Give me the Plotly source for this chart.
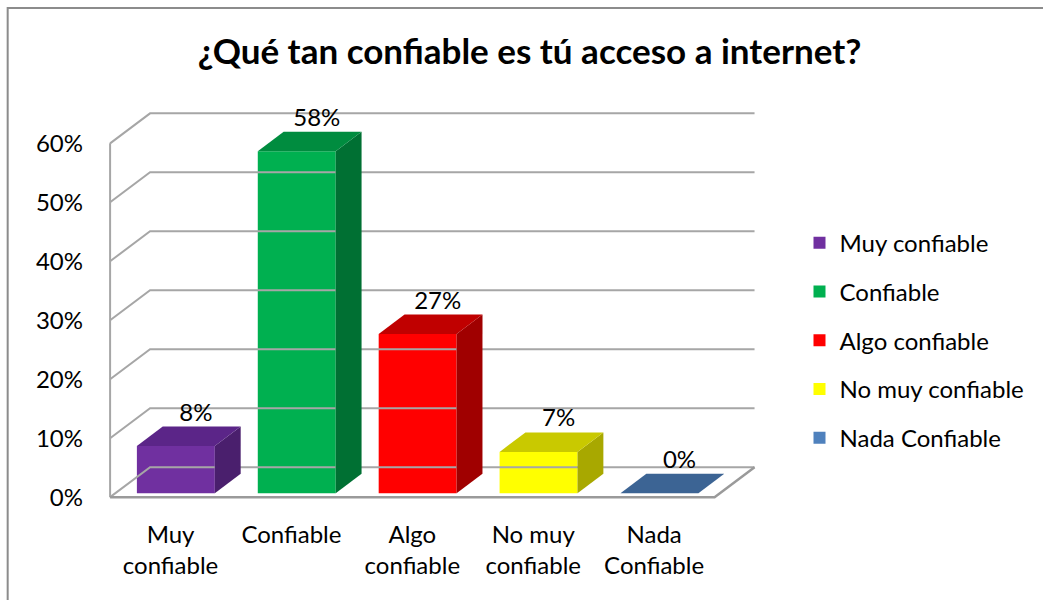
import plotly.graph_objects as go

# ---------------- data ----------------
categories = ["Muy confiable", "Confiable", "Algo confiable", "No muy confiable", "Nada Confiable"]
tick_labels = ["Muy<br>confiable", "Confiable", "Algo<br>confiable", "No muy<br>confiable", "Nada<br>Confiable"]
values = [8, 58, 27, 7, 0]
y_ticks = [0, 10, 20, 30, 40, 50, 60]
y_tick_labels = ["0%", "10%", "20%", "30%", "40%", "50%", "60%"]

front_colors = ["#7030A0", "#00B050", "#FF0000", "#FFFF00", "#4F81BD"]
top_colors = ["#5B2588", "#008C3F", "#C00000", "#C9C900", "#3C6494"]
side_colors = ["#4A1F6D", "#007033", "#A00000", "#A8A800", "#2F4F75"]

# ---------------- geometry (styles) ----------------
W, H = 1043, 600
PX_X = 121.0      # pixels per category
PX_Y = 5.9        # pixels per percentage point
DX = 40 / PX_X    # full depth of the 3D box, x component (data units)
DY = 30 / PX_Y    # full depth of the 3D box, y component (data units)
F0, F1 = 0.133, 0.78   # depth fraction of bar front / back
BW = 78 / PX_X    # bar width
FONT = "Lato"
FS = 24

x_lo, x_hi = -0.6, 4.5 + DX + 0.07
y_lo, y_hi = -1.5, 66.5
front_left_px, floor_px = 110.0, 497.0
ml = front_left_px - (-0.5 - x_lo) * PX_X
pw = (x_hi - x_lo) * PX_X
mr = W - ml - pw
mt = floor_px - y_hi * PX_Y
mb = H - (floor_px - y_lo * PX_Y)
ph = H - mt - mb

fig = go.Figure()

# walls / gridlines
gx, gy = [], []
n = len(categories)
for t in y_ticks:
    gx += [-0.5, -0.5 + DX, n - 0.5 + DX, None]
    gy += [t, t + DY, t + DY, None]
gx += [-0.5, -0.5, None]
gy += [0, y_ticks[-1], None]
fig.add_trace(go.Scatter(x=gx, y=gy, mode="lines", line=dict(color="#A6A6A6", width=2),
                         hoverinfo="skip", showlegend=False))
# floor front and right edges
fig.add_trace(go.Scatter(x=[-0.5, n - 0.5, n - 0.5 + DX], y=[0, 0, DY], mode="lines",
                         line=dict(color="#9A9A9A", width=2.5), hoverinfo="skip", showlegend=False))

# bars
ddx, ddy = (F1 - F0) * DX, (F1 - F0) * DY
for i, (cat, v) in enumerate(zip(categories, values)):
    cx = i + F0 * DX
    base = F0 * DY
    xl, xr = cx - BW / 2, cx + BW / 2
    yt = base + v
    fig.add_trace(go.Bar(x=[cx], y=[v], base=[base], width=[BW], name=cat,
                         marker=dict(color=front_colors[i], line=dict(width=0)),
                         legendgroup=cat, showlegend=True, hoverinfo="skip"))
    if v > 0:
        fig.add_trace(go.Scatter(x=[xr, xr, xr + ddx, xr + ddx, xr], y=[base, yt, yt + ddy, base + ddy, base],
                                 mode="lines", fill="toself", fillcolor=side_colors[i],
                                 line=dict(width=0, color=side_colors[i]), hoverinfo="skip",
                                 showlegend=False, legendgroup=cat))
    fig.add_trace(go.Scatter(x=[xl, xr, xr + ddx, xl + ddx, xl], y=[yt, yt, yt + ddy, yt + ddy, yt],
                             mode="lines", fill="toself", fillcolor=top_colors[i],
                             line=dict(width=0, color=top_colors[i]), hoverinfo="skip",
                             showlegend=False, legendgroup=cat))

# data labels
fig.add_trace(go.Scatter(x=[i + 0.21 for i in range(n)], y=[v + F1 * DY for v in values],
                         mode="text", text=[f"{v}%" for v in values], textposition="top center",
                         textfont=dict(family=FONT, size=FS, color="#000000"),
                         cliponaxis=False, hoverinfo="skip", showlegend=False))

# chart border (partly outside the page, as in the reference)
def px_to_paper_x(px):
    return (px - ml) / pw

def px_to_paper_y(py):
    return (H - mb - py) / ph

fig.add_shape(type="rect", xref="paper", yref="paper",
              x0=px_to_paper_x(7.5), x1=px_to_paper_x(1100), y0=px_to_paper_y(650), y1=px_to_paper_y(7.5),
              line=dict(color="#8C8C8C", width=2), fillcolor="rgba(0,0,0,0)", layer="below")

fig.update_layout(
    width=W, height=H,
    margin=dict(l=ml, r=mr, t=mt, b=mb, pad=0),
    paper_bgcolor="white", plot_bgcolor="white",
    barmode="overlay",
    title=dict(text="<b>¿Qué tan confiable es tú acceso a internet?</b>",
               x=529.5 / W, xanchor="center", xref="container",
               y=1 - 52 / H, yanchor="middle", yref="container",
               font=dict(family=FONT, size=35, color="#000000")),
    font=dict(family=FONT, size=FS, color="#000000"),
    xaxis=dict(range=[x_lo, x_hi], tickvals=list(range(n)), ticktext=tick_labels,
               showgrid=False, zeroline=False, showline=False, ticks="",
               ticklabelstandoff=12, automargin=False, fixedrange=True,
               tickfont=dict(family=FONT, size=FS, color="#000000")),
    yaxis=dict(range=[y_lo, y_hi], tickvals=y_ticks, ticktext=y_tick_labels,
               showgrid=False, zeroline=False, showline=False, ticks="",
               ticklabelstandoff=14, automargin=False, fixedrange=True,
               tickfont=dict(family=FONT, size=FS, color="#000000")),
    legend=dict(x=px_to_paper_x(800), xanchor="left", y=px_to_paper_y(340), yanchor="middle",
                traceorder="grouped", tracegroupgap=14.5, bgcolor="rgba(0,0,0,0)",
                font=dict(family=FONT, size=FS, color="#000000"), itemclick=False,
                itemdoubleclick=False),
    showlegend=True,
)

fig.write_html("out.html")
